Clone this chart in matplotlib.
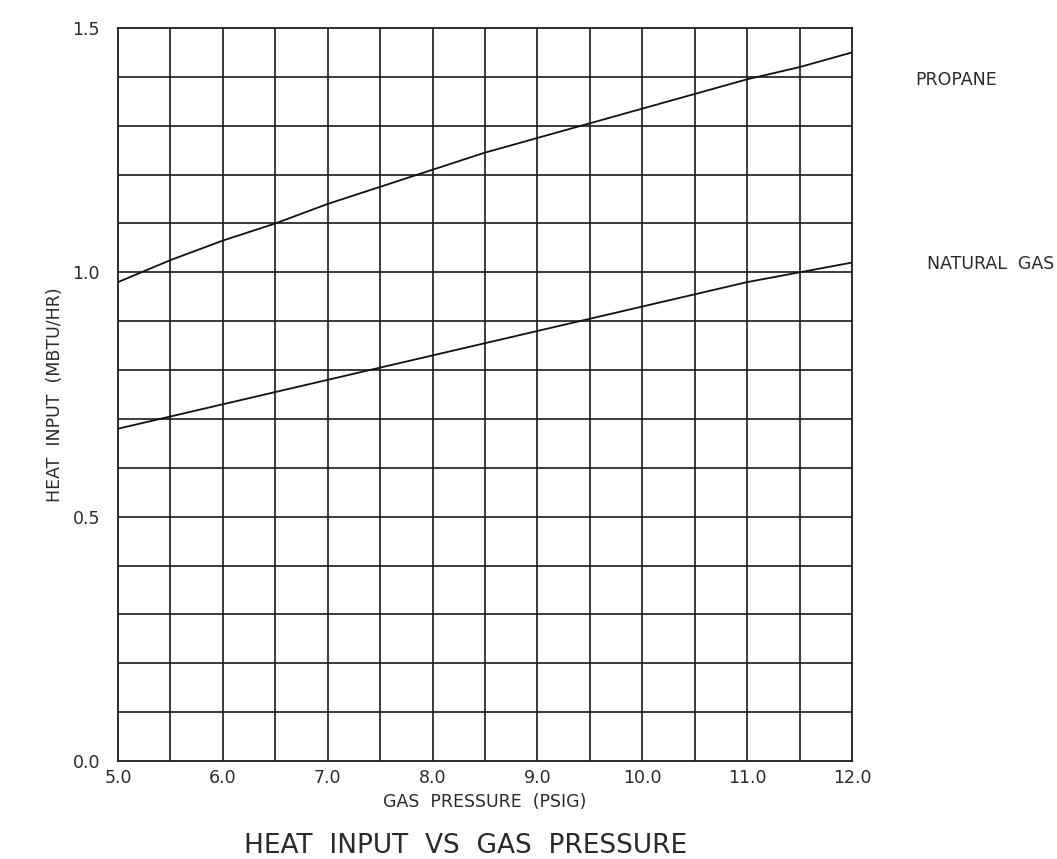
import matplotlib
matplotlib.use("Agg")
import matplotlib.pyplot as plt
import numpy as np

pressure = [5.0, 5.5, 6.0, 6.5, 7.0, 7.5, 8.0, 8.5, 9.0, 9.5, 10.0, 10.5, 11.0, 11.5, 12.0]
propane = [0.98, 1.025, 1.065, 1.10, 1.14, 1.175, 1.21, 1.245, 1.275, 1.305, 1.335, 1.365, 1.395, 1.42, 1.45]
natural_gas = [0.68, 0.705, 0.73, 0.755, 0.78, 0.805, 0.83, 0.855, 0.88, 0.905, 0.93, 0.955, 0.98, 1.0, 1.02]

xticks = [5.0, 6.0, 7.0, 8.0, 9.0, 10.0, 11.0, 12.0]
xtick_labels = ["5.0", "6.0", "7.0", "8.0", "9.0", "10.0", "11.0", "12.0"]
yticks = [0.0, 0.5, 1.0, 1.5]
ytick_labels = ["0.0", "0.5", "1.0", "1.5"]

plt.rcParams['font.family'] = ['DejaVu Sans']
txt = '#2a2a2a'

fig = plt.figure(figsize=(10.57, 8.59), dpi=100)
ax = fig.add_axes([118/1057, 98/859, 734/1057, 733/859])
ax.set_xlim(5, 12)
ax.set_ylim(0, 1.5)

for xv in np.arange(5.5, 12.0, 0.5):
    ax.axvline(xv, color='#1a1a1a', lw=1.2, zorder=1)
for yv in np.arange(0.1, 1.5, 0.1):
    ax.axhline(yv, color='#1a1a1a', lw=1.2, zorder=1)

ax.plot(pressure, propane, color='#111111', lw=1.3, zorder=3)
ax.plot(pressure, natural_gas, color='#111111', lw=1.3, zorder=3)

for s in ax.spines.values():
    s.set_linewidth(1.3)
    s.set_color('#1a1a1a')

ax.set_xticks(xticks)
ax.set_xticklabels(xtick_labels, color=txt, fontsize=12.5)
ax.set_yticks(yticks)
ax.set_yticklabels(ytick_labels, color=txt, fontsize=12.5)
ax.tick_params(axis='both', length=0)
ax.tick_params(axis='y', pad=13)
ax.tick_params(axis='x', pad=6)

ax.set_xlabel("GAS  PRESSURE  (PSIG)", color=txt, fontsize=12.5, labelpad=4)
ax.set_ylabel("HEAT  INPUT  (MBTU/HR)", color=txt, fontsize=12.5, labelpad=6)

ax.text(12.6, 1.393, "PROPANE", color=txt, fontsize=12.5, va='center', ha='left', clip_on=False)
ax.text(12.72, 1.018, "NATURAL  GAS", color=txt, fontsize=12.5, va='center', ha='left', clip_on=False)

fig.text(466/1057, 13/859, "HEAT  INPUT  VS  GAS  PRESSURE", color=txt, fontsize=19,
         ha='center', va='center')

fig.savefig("out.png", dpi=100)
